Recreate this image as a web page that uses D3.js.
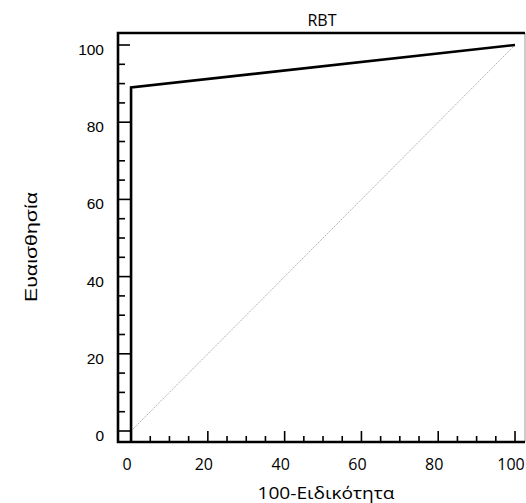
<!DOCTYPE html>
<html><head><meta charset="utf-8">
<script src="https://cdn.jsdelivr.net/npm/d3@7"></script>
<style>body{margin:0;background:#fff}svg{display:block}</style>
</head><body>
<script>
const title = "RBT";
const xLabel = "100-Ειδικότητα";
const yLabel = "Ευαισθησία";
const rocX = [0, 0, 100];
const rocY = [0, 89, 100];
const diagX = [0, 100];
const diagY = [0, 100];
const majorTicks = [0, 20, 40, 60, 80, 100];
const minorTicks = d3.range(0, 101, 5);

const W = 526, H = 503;
const svg = d3.select("body").append("svg").attr("width", W).attr("height", H);
const x = d3.scaleLinear().domain([-3.4, 102.6]).range([118, 525]);
const y = d3.scaleLinear().domain([-2.85, 100]).range([442, 45]);
const x0 = x.range()[0], x1 = x.range()[1], yb = 442, yt = 33;

// diagonal
svg.append("path")
  .attr("d", d3.line()(diagX.map((d, i) => [x(d), y(diagY[i])])))
  .attr("fill", "none").attr("stroke", "#999").attr("stroke-width", 0.8)
  .attr("stroke-dasharray", "1.5,1");

// frame: right thin
svg.append("line").attr("x1", x1).attr("x2", x1).attr("y1", yt).attr("y2", yb)
  .attr("stroke", "#999").attr("stroke-width", 1);

// ticks y (inward)
svg.append("g").selectAll("line").data(minorTicks).join("line")
  .attr("x1", x0).attr("x2", d => x0 + (d % 20 === 0 ? 12 : 7))
  .attr("y1", d => y(d)).attr("y2", d => y(d))
  .attr("stroke", "#000").attr("stroke-width", 1.6);
// ticks x
svg.append("g").selectAll("line").data(minorTicks).join("line")
  .attr("y1", yb).attr("y2", d => yb - (d % 20 === 0 ? 11 : 6))
  .attr("x1", d => x(d)).attr("x2", d => x(d))
  .attr("stroke", "#000").attr("stroke-width", 1.6);

// frame thick
svg.append("path")
  .attr("d", `M${x1},${yt}H${x0}V${yb}H${x1}`)
  .attr("fill", "none").attr("stroke", "#000").attr("stroke-width", 2.6);

// ROC curve
const pts = [[x(rocX[0]), yb]].concat(rocX.map((d, i) => [x(d), y(rocY[i])]));
svg.append("path").attr("d", d3.line()(pts))
  .attr("fill", "none").attr("stroke", "#000").attr("stroke-width", 2.6)
  .attr("stroke-linejoin", "miter");

// tick labels
svg.append("g").selectAll("text").data(majorTicks).join("text")
  .attr("x", d => x(d) - 4).attr("y", 470).attr("text-anchor", "middle")
  .attr("font-family", "Open Sans, sans-serif").attr("font-size", 16).text(d => d);
svg.append("g").selectAll("text").data(majorTicks).join("text")
  .attr("x", 104).attr("y", d => y(d) + 10).attr("text-anchor", "end")
  .attr("font-family", "Liberation Sans, Arial").attr("font-size", 15.5).text(d => d);

// titles
svg.append("text").attr("x", 322).attr("y", 26).attr("text-anchor", "middle")
  .attr("font-family", "Open Sans, sans-serif").attr("font-size", 16).text(title);
svg.append("text").attr("x", 326).attr("y", 499).attr("text-anchor", "middle")
  .attr("font-family", "Open Sans, sans-serif").attr("font-size", 16)
  .attr("textLength", 137).attr("lengthAdjust", "spacingAndGlyphs").text(xLabel);
svg.append("text").attr("transform", "translate(37,247) rotate(-90)").attr("text-anchor", "middle")
  .attr("font-family", "Liberation Sans, Arial").attr("font-size", 17)
  .attr("textLength", 110).attr("lengthAdjust", "spacingAndGlyphs").text(yLabel);
</script>
</body></html>
